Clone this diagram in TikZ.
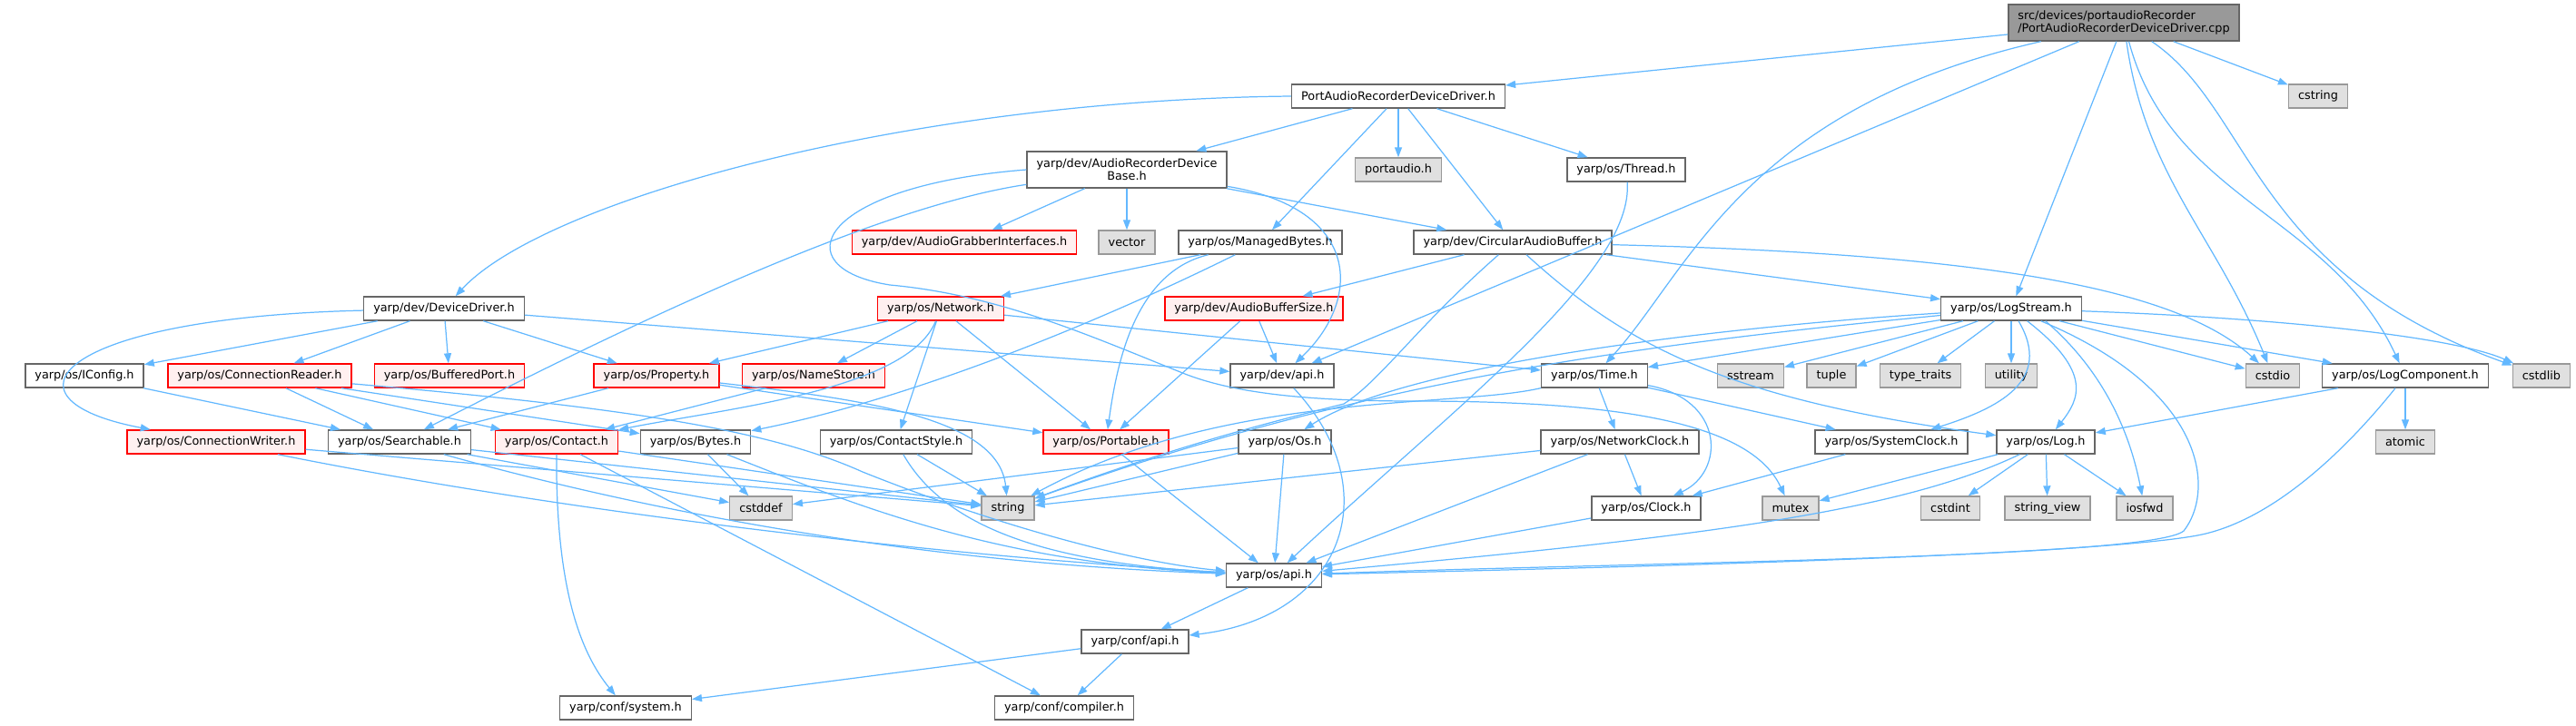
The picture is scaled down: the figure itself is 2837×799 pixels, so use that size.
\documentclass[tikz,border=0pt]{standalone}
\usepackage{fontspec}
\setmainfont{DejaVu Sans}
\usetikzlibrary{arrows.meta}
\definecolor{edgeblue}{HTML}{63B8FF}
\definecolor{truncfill}{HTML}{FFF0F0}
\definecolor{sysfill}{HTML}{E0E0E0}

\begin{document}
\begin{tikzpicture}[x=0.02cm,y=0.02cm,
  hdr/.style={draw=black!60,fill=white,line width=0.8pt,minimum height=0.52cm,inner xsep=0.21cm,inner ysep=0pt,font=\fontsize{7.3}{8.2}\selectfont},
  trunc/.style={hdr,draw=red,fill=truncfill},
  sys/.style={hdr,draw=black!40,fill=sysfill},
  mainfile/.style={hdr,fill=black!40,minimum height=0.8cm,align=left},
  dep/.style={draw=edgeblue,line width=0.7pt,-{Triangle[length=0.22cm,width=0.16cm]}}]
\useasboundingbox (0,0) rectangle (2837,-799);

% files, row by row
\node[mainfile] (root) at (2339,-25) {src/devices/portaudioRecorder\\/PortAudioRecorderDeviceDriver.cpp};
\node[hdr] (padrvh) at (1540,-106) {PortAudioRecorderDeviceDriver.h}; \node[sys] (cstring) at (2553,-106) {cstring};
\node[hdr,minimum height=0.8cm,align=center] (ardb) at (1241,-187) {yarp/dev/AudioRecorderDevice\\Base.h};
\node[sys] (portaudio) at (1540,-187) {portaudio.h}; \node[hdr] (thread) at (1791,-187) {yarp/os/Thread.h};
\node[trunc] (agi) at (1062,-267) {yarp/dev/AudioGrabberInterfaces.h}; \node[sys] (vector) at (1241,-267) {vector};
\node[hdr] (mbytes) at (1388,-267) {yarp/os/ManagedBytes.h}; \node[hdr] (cab) at (1666,-267) {yarp/dev/CircularAudioBuffer.h};
\node[hdr] (devdrv) at (489,-340) {yarp/dev/DeviceDriver.h}; \node[trunc] (network) at (1036,-340) {yarp/os/Network.h};
\node[trunc] (abs) at (1381,-340) {yarp/dev/AudioBufferSize.h}; \node[hdr] (logstream) at (2215,-340) {yarp/os/LogStream.h};
\node[hdr] (iconfig) at (93,-414) {yarp/os/IConfig.h}; \node[trunc] (connreader) at (286,-414) {yarp/os/ConnectionReader.h};
\node[trunc] (bufport) at (495,-414) {yarp/os/BufferedPort.h}; \node[trunc] (property) at (723,-414) {yarp/os/Property.h};
\node[trunc] (namestore) at (896,-414) {yarp/os/NameStore.h}; \node[hdr] (devapi) at (1412,-414) {yarp/dev/api.h};
\node[hdr] (time) at (1756,-414) {yarp/os/Time.h};
\node[sys] (sstream) at (1928,-414) {sstream}; \node[sys] (tuple) at (2017,-414) {tuple};
\node[sys] (typetraits) at (2115,-414) {type\_traits}; \node[sys] (utility) at (2215,-414) {utility};
\node[sys] (cstdio) at (2503,-414) {cstdio}; \node[hdr] (logcomp) at (2649,-414) {yarp/os/LogComponent.h};
\node[sys] (cstdlib) at (2799,-414) {cstdlib};
\node[trunc] (connwriter) at (238,-487) {yarp/os/ConnectionWriter.h}; \node[hdr] (searchable) at (440,-487) {yarp/os/Searchable.h};
\node[trunc] (contact) at (613,-487) {yarp/os/Contact.h}; \node[hdr] (bytes) at (766,-487) {yarp/os/Bytes.h};
\node[hdr] (contactstyle) at (987,-487) {yarp/os/ContactStyle.h}; \node[trunc] (portable) at (1218,-487) {yarp/os/Portable.h};
\node[hdr] (os) at (1415,-487) {yarp/os/Os.h}; \node[hdr] (netclock) at (1784,-487) {yarp/os/NetworkClock.h};
\node[hdr] (sysclock) at (2083,-487) {yarp/os/SystemClock.h}; \node[hdr] (log) at (2253,-487) {yarp/os/Log.h};
\node[sys] (atomic) at (2649,-487) {atomic};
\node[sys] (cstddef) at (838,-560) {cstddef}; \node[sys] (string) at (1110,-560) {string};
\node[hdr] (clock) at (1813,-560) {yarp/os/Clock.h}; \node[sys] (mutex) at (1972,-560) {mutex};
\node[sys] (cstdint) at (2148,-560) {cstdint}; \node[sys] (stringview) at (2255,-560) {string\_view};
\node[sys] (iosfwd) at (2362,-560) {iosfwd};
\node[hdr] (osapi) at (1403,-634) {yarp/os/api.h};
\node[hdr] (confapi) at (1250,-707) {yarp/conf/api.h};
\node[hdr] (system) at (689,-780) {yarp/conf/system.h}; \node[hdr] (compiler) at (1172,-780) {yarp/conf/compiler.h};

% includes of the .cpp
\draw[dep] (root) -- (padrvh); \draw[dep] (root) -- (cstring); \draw[dep] (root) -- (devapi);
\draw[dep] (root) .. controls (1920,-120) and (1860,-300) .. (time);
\draw[dep] (root) -- (logstream);
\draw[dep] (root) to[out=-82,in=112] (cstdio); \draw[dep] (root) to[out=-75,in=115] (logcomp);
\draw[dep] (root) .. controls (2480,-120) and (2480,-300) .. (cstdlib);

% PortAudioRecorderDeviceDriver.h
\draw[dep] (padrvh.west) .. controls (1000,-110) and (600,-220) .. (devdrv);
\draw[dep] (padrvh) -- (ardb); \draw[dep] (padrvh) -- (mbytes); \draw[dep] (padrvh) -- (portaudio);
\draw[dep] (padrvh) -- (cab); \draw[dep] (padrvh) -- (thread);

% AudioRecorderDeviceBase.h
\draw[dep] (ardb) -- (agi); \draw[dep] (ardb) -- (vector); \draw[dep] (ardb) -- (cab);
\draw[dep] (ardb) .. controls (1500,-230) and (1500,-330) .. (devapi);
\draw[dep] (ardb) .. controls (950,-230) and (650,-380) .. (searchable);
\draw[dep] (ardb.west) .. controls (900,-205) and (860,-295) .. (980,-314) .. controls (1100,-325) and (1200,-370) .. (1300,-410) .. controls (1360,-435) and (1450,-442) .. (1560,-442) .. controls (1800,-442) and (1930,-470) .. (mutex);

% ManagedBytes.h, CircularAudioBuffer.h, Thread.h
\draw[dep] (mbytes) -- (network);
\draw[dep] (mbytes) .. controls (1250,-300) and (1230,-400) .. (portable);
\draw[dep] (mbytes) .. controls (1200,-360) and (1000,-440) .. (bytes);
\draw[dep] (cab) -- (abs); \draw[dep] (cab) -- (logstream);
\draw[dep] (cab) .. controls (2200,-280) and (2400,-320) .. (cstdio);
\draw[dep] (cab) .. controls (1790,-380) and (1900,-440) .. (log);
\draw[dep] (cab) .. controls (1560,-360) and (1520,-420) .. (1480,-445) .. controls (1400,-465) and (1300,-490) .. (string);
\draw[dep] (thread) .. controls (1800,-300) and (1600,-450) .. (osapi);

% DeviceDriver.h
\draw[dep] (devdrv) -- (iconfig); \draw[dep] (devdrv) -- (connreader); \draw[dep] (devdrv) -- (bufport);
\draw[dep] (devdrv) -- (property); \draw[dep] (devdrv) -- (devapi);
\draw[dep] (devdrv) .. controls (60,-350) and (-10,-440) .. (connwriter);

% Network.h, AudioBufferSize.h
\draw[dep] (network) -- (property); \draw[dep] (network) -- (namestore);
\draw[dep] (network) .. controls (1000,-430) and (800,-450) .. (contact);
\draw[dep] (network) -- (contactstyle); \draw[dep] (network) -- (portable); \draw[dep] (network) -- (time);
\draw[dep] (abs) -- (devapi); \draw[dep] (abs) -- (portable);

% LogStream.h
\draw[dep] (logstream) -- (time);
\draw[dep] (logstream) .. controls (1900,-360) and (1550,-400) .. (os);
\draw[dep] (logstream) .. controls (1800,-380) and (1500,-420) .. (string);
\draw[dep] (logstream) -- (sstream); \draw[dep] (logstream) -- (tuple); \draw[dep] (logstream) -- (typetraits);
\draw[dep] (logstream) -- (utility); \draw[dep] (logstream) -- (cstdio); \draw[dep] (logstream) -- (logcomp);
\draw[dep] (logstream) .. controls (2500,-350) and (2700,-370) .. (cstdlib);
\draw[dep] (logstream) .. controls (2262,-420) and (2200,-450) .. (sysclock);
\draw[dep] (logstream) .. controls (2305,-410) and (2290,-440) .. (log);
\draw[dep] (logstream.-20) .. controls (2330,-420) and (2350,-500) .. (iosfwd);
\draw[dep] (logstream) .. controls (2430,-430) and (2440,-540) .. (2405,-585) .. controls (2370,-615) and (1800,-620) .. (osapi);

% row of IConfig.h ... LogComponent.h
\draw[dep] (iconfig) -- (searchable);
\draw[dep] (connreader) -- (searchable); \draw[dep] (connreader) -- (contact); \draw[dep] (connreader) -- (bytes);
\draw[dep] (connreader) .. controls (700,-450) and (850,-475) .. (950,-520) .. controls (1100,-580) and (1250,-620) .. (osapi);
\draw[dep] (property) -- (searchable); \draw[dep] (property) -- (portable);
\draw[dep] (property) .. controls (950,-440) and (1100,-460) .. (string);
\draw[dep] (namestore) -- (contact);
\draw[dep] (time) .. controls (1600,-450) and (1350,-430) .. (string);
\draw[dep] (time) -- (netclock); \draw[dep] (time) -- (sysclock);
\draw[dep] (time) .. controls (1900,-440) and (1900,-520) .. (clock);
\draw[dep] (logcomp) -- (log); \draw[dep] (logcomp) -- (atomic);
\draw[dep] (logcomp) .. controls (2580,-500) and (2500,-575) .. (2420,-590) .. controls (2300,-612) and (1800,-625) .. (osapi);

% row of ConnectionWriter.h ... Log.h
\draw[dep] (connwriter) .. controls (600,-560) and (1000,-610) .. (osapi); \draw[dep] (connwriter) -- (string);
\draw[dep] (searchable) -- (cstddef); \draw[dep] (searchable) -- (string);
\draw[dep] (searchable) .. controls (700,-560) and (1000,-620) .. (osapi);
\draw[dep] (contact) -- (string); \draw[dep] (contact) -- (compiler);
\draw[dep] (contact) .. controls (612,-650) and (640,-720) .. (system);
\draw[dep] (bytes) -- (cstddef); \draw[dep] (bytes) .. controls (950,-560) and (1100,-620) .. (osapi);
\draw[dep] (contactstyle) -- (string); \draw[dep] (contactstyle) .. controls (1040,-580) and (1150,-620) .. (osapi);
\draw[dep] (portable) -- (osapi);
\draw[dep] (os) -- (cstddef); \draw[dep] (os) -- (string); \draw[dep] (os) -- (osapi);
\draw[dep] (netclock) -- (string); \draw[dep] (netclock) -- (clock); \draw[dep] (netclock) -- (osapi);
\draw[dep] (sysclock) -- (clock);
\draw[dep] (log) -- (mutex); \draw[dep] (log) -- (cstdint); \draw[dep] (log) -- (stringview); \draw[dep] (log) -- (iosfwd);
\draw[dep] (log) .. controls (2100,-560) and (1900,-590) .. (osapi);

% api headers
\draw[dep] (clock) -- (osapi);
\draw[dep] (osapi) -- (confapi);
\draw[dep] (devapi) .. controls (1530,-540) and (1480,-680) .. (confapi);
\draw[dep] (confapi) -- (system); \draw[dep] (confapi) -- (compiler);
\end{tikzpicture}
\end{document}
